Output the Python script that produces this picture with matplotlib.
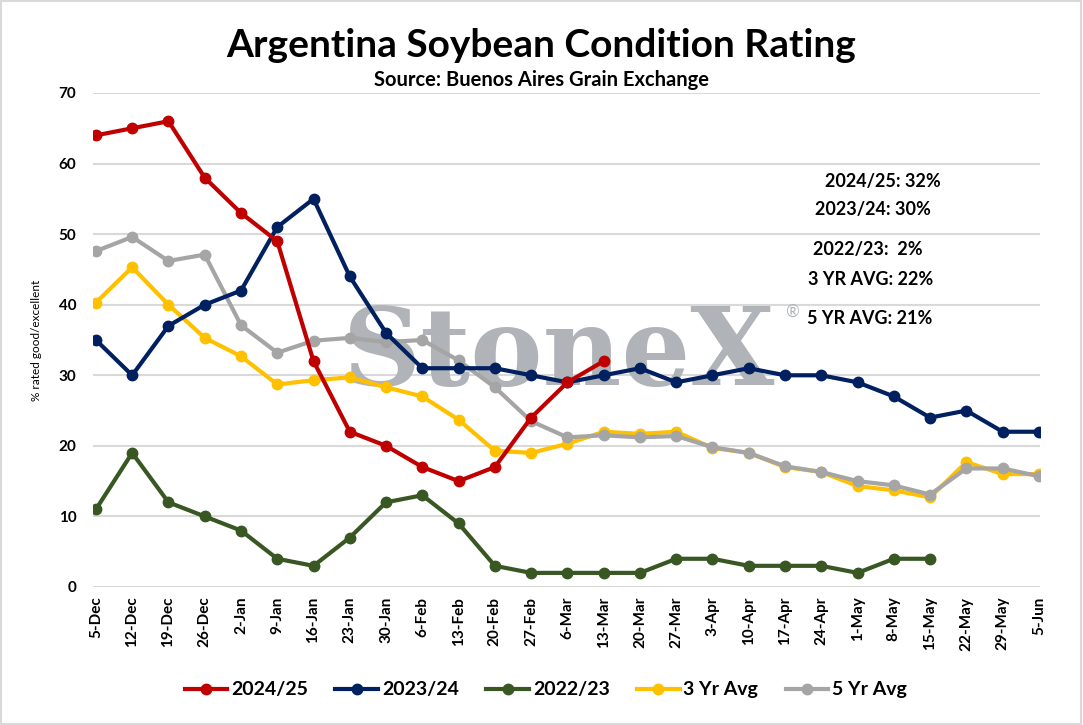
import matplotlib.pyplot as plt
from matplotlib.patches import Rectangle

weeks = ['5-Dec', '12-Dec', '19-Dec', '26-Dec', '2-Jan', '9-Jan', '16-Jan', '23-Jan', '30-Jan',
         '6-Feb', '13-Feb', '20-Feb', '27-Feb', '6-Mar', '13-Mar', '20-Mar', '27-Mar', '3-Apr',
         '10-Apr', '17-Apr', '24-Apr', '1-May', '8-May', '15-May', '22-May', '29-May', '5-Jun']

y2425 = [64, 65, 66, 58, 53, 49, 32, 22, 20, 17, 15, 17, 24, 29, 32]
y2324 = [35, 30, 37, 40, 42, 51, 55, 44, 36, 31, 31, 31, 30, 29, 30, 31, 29, 30, 31, 30, 30,
         29, 27, 24, 25, 22, 22]
y2223 = [11, 19, 12, 10, 8, 4, 3, 7, 12, 13, 9, 3, 2, 2, 2, 2, 4, 4, 3, 3, 3, 2, 4, 4]
avg3 = [40.3, 45.3, 40.0, 35.3, 32.7, 28.7, 29.3, 29.7, 28.3, 27.0, 23.7, 19.3, 19.0, 20.3,
        22.0, 21.7, 22.0, 19.7, 19.0, 17.0, 16.3, 14.3, 13.7, 12.7, 17.7, 16.0, 16.0]
avg5 = [47.6, 49.6, 46.2, 47.1, 37.1, 33.2, 34.9, 35.3, 34.7, 35.0, 32.1, 28.3, 23.5, 21.2,
        21.5, 21.2, 21.4, 19.8, 19.0, 17.1, 16.3, 15.0, 14.4, 13.1, 16.8, 16.8, 15.7]

notes = ['2024/25: 32%', '2023/24: 30%', '2022/23:  2%', '3 YR AVG: 22%', '5 YR AVG: 21%']

plt.rcParams['font.family'] = ['Lato', 'DejaVu Sans']
plt.rcParams['font.weight'] = 'bold'

fig = plt.figure(figsize=(10.83, 7.25), dpi=100)
ax = fig.add_axes([93 / 1083, 1 - 587 / 725, (1040 - 93) / 1083, (587 - 93) / 725])

# watermark (above grid, below lines)
ax.text(343 / 1083, 1 - 385 / 725, 'StoneX', transform=fig.transFigure, fontsize=78,
        family='DejaVu Serif', fontweight='bold', color='#b0b3b7', ha='left', va='baseline',
        zorder=1, clip_on=False)
ax.text(792 / 1083, 1 - 312 / 725, '®', transform=fig.transFigure, fontsize=12,
        fontweight='normal', color='#b0b3b7', ha='center', va='center', zorder=1, clip_on=False)

series = [
    (y2223, '#385723', '2022/23', 3),
    (avg3, '#FFC000', '3 Yr Avg', 4),
    (avg5, '#A5A5A5', '5 Yr Avg', 5),
    (y2324, '#002060', '2023/24', 6),
    (y2425, '#C00000', '2024/25', 7),
]
lines = {}
for vals, col, lab, z in series:
    ln, = ax.plot(range(len(vals)), vals, color=col, lw=3, marker='o', ms=7.5, label=lab, zorder=z)
    lines[lab] = ln

ax.set_xlim(-0.08, 26.03)
ax.set_ylim(0, 70)
ax.set_yticks(range(0, 71, 10))
ax.set_xticks(range(len(weeks)))
ax.set_xticklabels(weeks, rotation=90, fontsize=11, fontweight='bold')
ax.tick_params(axis='both', length=0, labelsize=11)
ax.tick_params(axis='y', pad=12)
ax.tick_params(axis='x', pad=7)
ax.grid(axis='y', color='#d9d9d9', lw=1.5, zorder=0)
ax.set_axisbelow(True)
for s in ax.spines.values():
    s.set_visible(False)
ax.set_ylabel('% rated good/excellent', fontsize=8.5, fontweight='normal', labelpad=12)

fig.text(0.5, 0.937, 'Argentina Soybean Condition Rating', ha='center', va='center',
         fontsize=28, fontweight='bold')
fig.text(0.5, 0.889, 'Source: Buenos Aires Grain Exchange', ha='center', va='center',
         fontsize=14.5, fontweight='bold')

note_y = [181, 210, 249, 279, 318]
note_x = [825, 815, 813, 808, 807]
for t, xx, yy in zip(notes, note_x, note_y):
    fig.text(xx / 1083, 1 - yy / 725, t, ha='left', va='center', fontsize=13, fontweight='bold')

order = ['2024/25', '2023/24', '2022/23', '3 Yr Avg', '5 Yr Avg']
fig.legend([lines[k] for k in order], order, loc='center', bbox_to_anchor=(0.504, 1 - 690 / 725),
           ncol=5, frameon=False, fontsize=14, handlelength=2.2, columnspacing=1.4,
           handletextpad=0.2)

fig.patches.append(Rectangle((0.001, 0.002), 0.997, 0.996, transform=fig.transFigure,
                             fill=False, edgecolor='#d9d9d9', lw=1.5))

fig.savefig('out.png', dpi=100)
